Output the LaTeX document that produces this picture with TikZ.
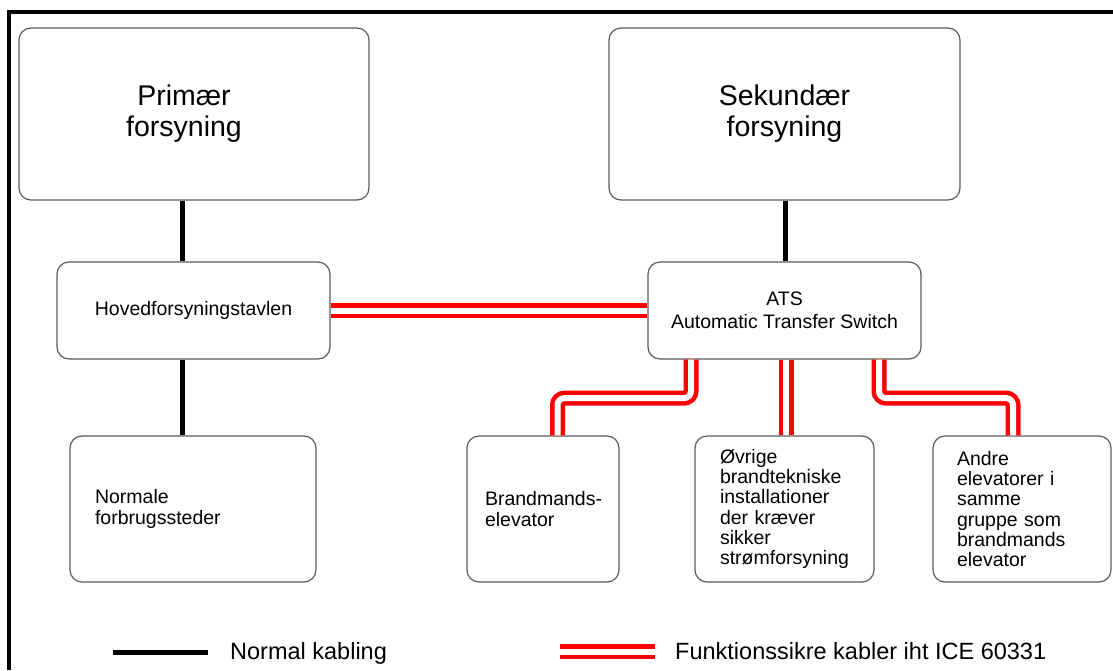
\documentclass[tikz,border=0pt]{standalone}
\usepackage{fontspec}
\setmainfont{Liberation Sans}
\definecolor{boxgray}{RGB}{90,90,90}
\newcommand{\titlefont}{\fontsize{28.5}{31}\selectfont}
\newcommand{\boxfont}{\fontsize{19.5}{20.2}\selectfont}
\newcommand{\legendfont}{\fontsize{23.5}{28}\selectfont}
\tikzset{
    box/.style={draw=boxgray, line width=1.2pt, rounded corners=12pt, inner sep=0pt},
    leftbox/.style={box, minimum height=146pt, align=left, font=\boxfont},
    normalcable/.style={line width=5pt, black},
    safecable/.style={draw=red, line width=4.5pt, double=white, double distance=6pt, rounded corners=7pt},
}
\begin{document}
\begin{tikzpicture}[x=1pt, y=-1pt]
    \useasboundingbox (0,0) rectangle (1113,670);
    \draw [line width=4pt] (1113,12) -- (9,12) -- (9,670);       % frame

    % supplies
    \node [box, minimum width=350pt, minimum height=172pt] (prim) at (194,114) {};
    \node [align=center, font=\titlefont, inner sep=0pt]
        (primtxt) at ([xshift=-10pt]prim.center) {Primær\\forsyning};
    \node [box, minimum width=351pt, minimum height=172pt, align=center, font=\titlefont]
        (sek) at (784.5,114) {Sekundær\\forsyning};

    % switchboards
    \node [box, minimum width=273pt, minimum height=97pt, font=\boxfont]
        (hoved) at (193.5,310.5) {Hovedforsyningstavlen};
    \node [box, minimum width=273pt, minimum height=97pt, align=center, font=\fontsize{19.5}{23}\selectfont]
        (ats) at (784.5,310.5) {ATS\\Automatic Transfer Switch};

    % consumers
    \node [leftbox, text width=196pt, inner xsep=25pt] (normale) at (193,509)
        {Normale\\forbrugssteder};
    \node [leftbox, text width=116pt, inner xsep=18pt] (brand) at (543,509)
        {\mbox{Brandmands-}\\elevator};
    \node [leftbox, text width=129pt, inner xsep=25pt] (ovrige) at (784.5,509)
        {Øvrige\\brandtekniske\\installationer\\der kræver\\sikker\\strømforsyning};
    \node [leftbox, text width=130pt, inner xsep=24pt] (andre) at (1022,509)
        {Andre\\elevatorer i\\samme\\gruppe som\\brandmands\\elevator};

    % normal cables
    \draw [normalcable] ([xshift=-11.5pt]prim.south) -- ([xshift=-11pt]hoved.north);
    \draw [normalcable] ([xshift=-11pt]hoved.south) -- ([xshift=-10.5pt]normale.north);
    \draw [normalcable] ([xshift=0.5pt]sek.south) -- ([xshift=0.5pt]ats.north);

    % fire safe cables
    \draw [safecable] (hoved.east) -- (ats.west);
    \draw [safecable] ([xshift=-93.5pt]ats.south) -- ++(0,38.5) -| ([xshift=14.5pt]brand.north);
    \draw [safecable] ([xshift=1.5pt]ats.south) -- ([xshift=1.5pt]ovrige.north);
    \draw [safecable] ([xshift=94.5pt]ats.south) -- ++(0,38.5) -| ([xshift=-9pt]andre.north);

    % legend
    \coordinate (legA1) at (113,652);
    \coordinate (legA2) at (208,652);
    \coordinate (legB1) at (560,651.7);
    \coordinate (legB2) at (655,651.7);
    \draw [normalcable] (legA1) -- (legA2);
    \draw [safecable] (legB1) -- (legB2);
    \node [anchor=base west, inner sep=0pt, font=\legendfont] (legAtxt) at (230,659) {Normal kabling};
    \node [anchor=base west, inner sep=0pt, font=\legendfont] (legBtxt) at (675,659) {Funktionssikre kabler iht ICE 60331};
\end{tikzpicture}
\end{document}
